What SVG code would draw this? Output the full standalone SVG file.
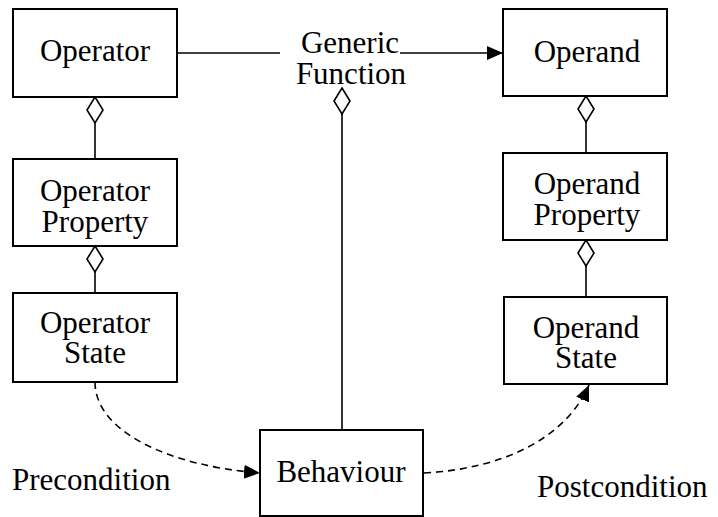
<svg xmlns="http://www.w3.org/2000/svg" width="718" height="517" viewBox="0 0 718 517">
  <style>
    .box { fill: #ffffff; stroke: #000000; stroke-width: 2; }
    .lbl { font-size: 31px; fill: #000000; text-anchor: middle; }
    .free { font-size: 31px; fill: #000000; }
    .link { fill: none; stroke: #000000; stroke-width: 1.6; }
    .dash { fill: none; stroke: #000000; stroke-width: 1.6; stroke-dasharray: 7 5; }
    .agg { fill: #ffffff; stroke: #000000; stroke-width: 1.6; }
  </style>
  <defs>
    <marker id="arrow" markerUnits="userSpaceOnUse" markerWidth="16" markerHeight="16" viewBox="0 0 16 16" refX="16" refY="8" orient="auto">
      <path d="M0,1 L16,8 L0,15 Z" fill="#000000"/>
    </marker>
  </defs>
  <rect width="718" height="517" fill="#ffffff"/>

  <g id="connectors">
    <!-- Operator to Generic Function, Generic Function to Operand -->
    <line class="link" x1="177" y1="53" x2="280" y2="53"/>
    <line class="link" x1="400" y1="53" x2="503" y2="53" marker-end="url(#arrow)"/>
    <!-- aggregation: Operator side -->
    <line class="link" x1="95" y1="123" x2="95" y2="159"/>
    <path class="agg" d="M95,97 L103,110 L95,123 L87,110 Z"/>
    <line class="link" x1="95" y1="272" x2="95" y2="293"/>
    <path class="agg" d="M95,246 L103,259 L95,272 L87,259 Z"/>
    <!-- aggregation: Generic Function to Behaviour -->
    <line class="link" x1="342" y1="114" x2="342" y2="430"/>
    <path class="agg" d="M342,88 L350,101 L342,114 L334,101 Z"/>
    <!-- aggregation: Operand side -->
    <line class="link" x1="586" y1="122" x2="586" y2="153"/>
    <path class="agg" d="M586,96 L594,109 L586,122 L578,109 Z"/>
    <line class="link" x1="586" y1="266" x2="586" y2="297"/>
    <path class="agg" d="M586,240 L594,253 L586,266 L578,253 Z"/>
    <!-- precondition and postcondition flows -->
    <path class="dash" d="M95,382 C95,432 170,466 260,473" marker-end="url(#arrow)"/>
    <path class="dash" d="M424,473 C500,469 565,440 589,385" marker-end="url(#arrow)"/>
  </g>

  <g font-family="Liberation Serif, Times New Roman, serif">
    <g id="operator">
      <rect class="box" x="13" y="9" width="164" height="88"/>
      <text class="lbl" x="95" y="61">Operator</text>
    </g>
    <g id="operator-property">
      <rect class="box" x="13" y="159" width="164" height="87"/>
      <text class="lbl" x="95" y="201">Operator</text>
      <text class="lbl" x="95" y="232">Property</text>
    </g>
    <g id="operator-state">
      <rect class="box" x="13" y="293" width="164" height="89"/>
      <text class="lbl" x="95" y="333">Operator</text>
      <text class="lbl" x="95" y="363">State</text>
    </g>
    <g id="generic-function">
      <text class="lbl" x="350" y="53">Generic</text>
      <text class="lbl" x="351" y="84">Function</text>
    </g>
    <g id="operand">
      <rect class="box" x="503" y="9" width="164" height="87"/>
      <text class="lbl" x="587" y="62">Operand</text>
    </g>
    <g id="operand-property">
      <rect class="box" x="503" y="153" width="164" height="87"/>
      <text class="lbl" x="587" y="194">Operand</text>
      <text class="lbl" x="587" y="225">Property</text>
    </g>
    <g id="operand-state">
      <rect class="box" x="504" y="297" width="163" height="87"/>
      <text class="lbl" x="586" y="338">Operand</text>
      <text class="lbl" x="586" y="368">State</text>
    </g>
    <g id="behaviour">
      <rect class="box" x="260" y="430" width="163" height="86"/>
      <text class="lbl" x="341" y="482">Behaviour</text>
    </g>
    <g id="condition-labels">
      <text class="free" x="12" y="490">Precondition</text>
      <text class="free" x="537" y="497">Postcondition</text>
    </g>
  </g>
</svg>
